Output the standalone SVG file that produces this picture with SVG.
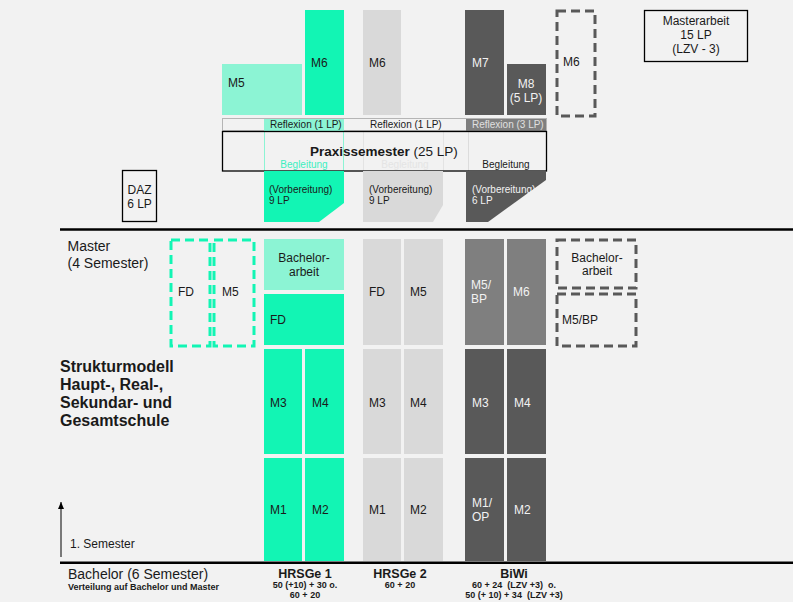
<svg xmlns="http://www.w3.org/2000/svg" width="793" height="602" viewBox="0 0 793 602">
<defs>
<style>
text{font-family:"Liberation Sans",Arial,sans-serif;font-size:12px;fill:#1a1a1a}
.s10{font-size:10px}
.s9{font-size:9px;font-weight:bold}
.b{font-weight:bold}
.w{fill:#f2f2f2}
.c{text-anchor:middle}
.g{fill:#12F5B4}
.lg{fill:#8CF4D4}
.gr{fill:#d9d9d9}
.dk{fill:#595959}
.md{fill:#7f7f7f}
.dg{fill:none;stroke:#12F5B4;stroke-width:3;stroke-dasharray:9 5}
.dd{fill:none;stroke:#595959;stroke-width:3;stroke-dasharray:9 5}
.box{fill:none;stroke:#000;stroke-width:1.3}
</style>
<marker id="ah" markerWidth="8" markerHeight="8" refX="7" refY="4" orient="auto" markerUnits="userSpaceOnUse" viewBox="0 0 8 8">
<path d="M0,1 L7,4 L0,7 Z" fill="#000"/>
</marker>
</defs>
<rect width="793" height="602" fill="#f2f2f2"/>

<g id="separators">
<line x1="60" y1="229.5" x2="793" y2="229.5" stroke="#000" stroke-width="2.5"/>
<line x1="60" y1="562.8" x2="793" y2="562.8" stroke="#000" stroke-width="2.5"/>
</g>

<!-- Top modules -->
<g id="top-m5-green"><rect class="lg" x="222" y="64" width="80" height="51"/><text x="228" y="87">M5</text></g>
<g id="top-m6-green"><rect class="g" x="305" y="10" width="39" height="105"/><text x="311" y="67">M6</text></g>
<g id="top-m6-gray"><rect class="gr" x="363" y="10" width="38" height="105"/><text x="369" y="67">M6</text></g>
<g id="top-m7"><rect class="dk" x="465" y="10" width="39" height="105"/><text class="w" x="472" y="67">M7</text></g>
<g id="top-m8"><rect class="dk" x="507" y="64" width="39" height="51"/><text class="w c" x="526" y="88">M8</text><text class="w c" x="526" y="102">(5 LP)</text></g>
<g id="top-m6-dashed"><rect class="dd" x="557" y="11" width="38" height="105"/><text x="563" y="66">M6</text></g>
<g id="masterarbeit"><rect class="box" x="644.5" y="10.5" width="103" height="51"/><text class="c" x="696" y="25">Masterarbeit</text><text class="c" x="696" y="39">15 LP</text><text class="c" x="696" y="53">(LZV - 3)</text></g>

<!-- Praxissemester -->
<g id="reflexion">
<rect x="222.5" y="118.5" width="324" height="12" fill="none" stroke="#595959" stroke-width="0.8" stroke-dasharray="1 1"/>
<rect class="lg" x="264" y="119" width="80" height="12"/>
<rect class="md" x="466" y="119" width="80" height="12"/>
<text class="s10" x="270" y="128">Reflexion (1 LP)</text>
<text class="s10" x="370" y="128">Reflexion (1 LP)</text>
<text class="s10" x="472" y="128" style="fill:#e0e0e0">Reflexion (3 LP)</text>
</g>
<g id="praxissemester">
<rect x="264.5" y="131" width="79" height="40" fill="none" stroke="#8CF4D4" stroke-width="1"/>
<line x1="363.5" y1="131" x2="363.5" y2="171" stroke="#e3e3e3"/>
<line x1="443.5" y1="131" x2="443.5" y2="171" stroke="#e3e3e3"/>
<line x1="468.5" y1="131" x2="468.5" y2="171" stroke="#dcdcdc"/>
<rect class="box" x="222.5" y="131.5" width="324" height="39.5" stroke-width="1.5"/>
<text x="310" y="156" style="font-size:13.5px"><tspan class="b">Praxissemester</tspan> (25 LP)</text>
<text class="s10 c" x="304" y="167.5" style="fill:#3DEFBF">Begleitung</text>
<text class="s10 c" x="405" y="168" style="fill:#e4e4e4">Begleitung</text>
<text class="s10 c" x="506" y="167.5">Begleitung</text>
</g>
<g id="vorbereitung-green"><polygon class="g" points="264,171 344,171 344,203 319,222 264,222"/><text class="s10" x="269" y="193">(Vorbereitung)</text><text class="s10" x="269" y="204">9 LP</text></g>
<g id="vorbereitung-gray"><polygon class="gr" points="363,171 443,171 443,205 433,222 363,222"/><text class="s10" x="369" y="193">(Vorbereitung)</text><text class="s10" x="369" y="204">9 LP</text></g>
<g id="vorbereitung-dark"><polygon class="dk" points="466,171 546,171 546,180 488,222 466,222"/><text class="s10 w" x="472" y="193">(Vorbereitung)</text><text class="s10 w" x="472" y="204">6 LP</text></g>
<g id="daz"><rect class="box" x="122.5" y="170.5" width="34" height="51"/><text class="c" x="139.5" y="194">DAZ</text><text class="c" x="139.5" y="207.5">6 LP</text></g>

<!-- Left labels -->
<g id="label-master"><text x="67.5" y="251" style="font-size:14px">Master</text><text x="67.5" y="268" style="font-size:14px">(4 Semester)</text></g>
<g id="title"><text class="b" x="60" y="372" style="font-size:16px">Strukturmodell</text><text class="b" x="60" y="390" style="font-size:16px">Haupt-, Real-,</text><text class="b" x="60" y="408" style="font-size:16px">Sekundar- und</text><text class="b" x="60" y="426" style="font-size:16px">Gesamtschule</text></g>
<g id="label-semester"><text x="70" y="548">1. Semester</text></g>
<g id="label-bachelor"><text x="68" y="579" style="font-size:14px">Bachelor (6 Semester)</text><text class="s9" x="68" y="590">Verteilung auf Bachelor und Master</text></g>

<!-- Master: dashed -->
<g id="dashed-fd"><rect class="dg" x="171" y="240" width="39" height="106"/><text x="178" y="296">FD</text></g>
<g id="dashed-m5"><rect class="dg" x="214" y="240" width="40" height="106"/><text x="222" y="296">M5</text></g>
<g id="dashed-bachelorarbeit"><rect class="dd" x="557" y="240" width="79" height="48"/><text class="c" x="597" y="262">Bachelor-</text><text class="c" x="597" y="275">arbeit</text></g>
<g id="dashed-m5bp"><rect class="dd" x="557" y="294" width="79" height="52"/><text x="562" y="324">M5/BP</text></g>

<!-- Green column -->
<g id="g-bachelorarbeit"><rect class="lg" x="264" y="239" width="80" height="51"/><text class="c" x="304" y="262">Bachelor-</text><text class="c" x="304" y="276">arbeit</text></g>
<g id="g-fd"><rect class="g" x="264" y="294" width="80" height="51"/><text x="270" y="324">FD</text></g>
<g id="g-m3"><rect class="g" x="264" y="349" width="38" height="105"/><text x="270" y="407">M3</text></g>
<g id="g-m4"><rect class="g" x="305" y="349" width="39" height="105"/><text x="312" y="407">M4</text></g>
<g id="g-m1"><rect class="g" x="264" y="458" width="38" height="103"/><text x="270" y="514">M1</text></g>
<g id="g-m2"><rect class="g" x="305" y="458" width="39" height="103"/><text x="312" y="514">M2</text></g>

<!-- Gray column -->
<g id="gr-fd"><rect class="gr" x="363" y="239" width="38" height="106"/><text x="369" y="296">FD</text></g>
<g id="gr-m5"><rect class="gr" x="404" y="239" width="39" height="106"/><text x="410" y="296">M5</text></g>
<g id="gr-m3"><rect class="gr" x="363" y="349" width="38" height="105"/><text x="369" y="407">M3</text></g>
<g id="gr-m4"><rect class="gr" x="404" y="349" width="39" height="105"/><text x="410" y="407">M4</text></g>
<g id="gr-m1"><rect class="gr" x="363" y="458" width="38" height="103"/><text x="369" y="514">M1</text></g>
<g id="gr-m2"><rect class="gr" x="404" y="458" width="39" height="103"/><text x="410" y="514">M2</text></g>

<!-- Dark column -->
<g id="dk-m5bp"><rect class="md" x="465" y="239" width="39" height="106"/><text class="w" x="471" y="289">M5/</text><text class="w" x="471" y="302.5">BP</text></g>
<g id="dk-m6"><rect class="md" x="507" y="239" width="39" height="106"/><text class="w" x="513" y="296">M6</text></g>
<g id="dk-m3"><rect class="dk" x="465" y="349" width="39" height="105"/><text class="w" x="472" y="407">M3</text></g>
<g id="dk-m4"><rect class="dk" x="507" y="349" width="39" height="105"/><text class="w" x="514" y="407">M4</text></g>
<g id="dk-m1op"><rect class="dk" x="465" y="458" width="39" height="103"/><text class="w" x="472" y="507">M1/</text><text class="w" x="472" y="521">OP</text></g>
<g id="dk-m2"><rect class="dk" x="507" y="458" width="39" height="103"/><text class="w" x="514" y="514">M2</text></g>

<!-- Bottom captions -->
<g id="cap-hrsge1"><text class="b c" x="305" y="577.5" style="font-size:12.5px">HRSGe 1</text><text class="s9 c" x="305" y="587.5">50 (+10) + 30 o.</text><text class="s9 c" x="305" y="597.5">60 + 20</text></g>
<g id="cap-hrsge2"><text class="b c" x="400" y="577.5" style="font-size:12.5px">HRSGe 2</text><text class="s9 c" x="400" y="587.5">60 + 20</text></g>
<g id="cap-biwi"><text class="b c" x="514" y="577.5" style="font-size:12.5px">BiWi</text><text class="s9 c" x="514" y="587.5" xml:space="preserve">60 + 24  (LZV +3)  o.</text><text class="s9 c" x="514" y="597.5" xml:space="preserve">50 (+ 10) + 34  (LZV +3)</text></g>

<g id="connectors">
<line x1="61" y1="557" x2="61" y2="502" stroke="#000" stroke-width="1" marker-end="url(#ah)"/>
</g>
</svg>
